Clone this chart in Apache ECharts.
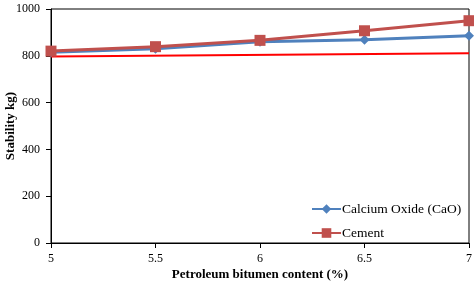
<!DOCTYPE html>
<html><head><meta charset="utf-8">
<script src="https://cdn.jsdelivr.net/npm/echarts@6/dist/echarts.min.js"></script>
<style>html,body{margin:0;padding:0;background:#fff}#c{width:474px;height:283px}</style>
</head><body><div id="c"></div>
<script>
const bitumen = [5, 5.5, 6, 6.5, 7];
const cao = [815, 830, 860, 869, 886];
const cement = [820, 839, 866, 907, 950];
const limitX = [5, 7];
const limitY = [797, 811];
const xTicks = [5, 5.5, 6, 6.5, 7];
const yTicks = [0, 200, 400, 600, 800, 1000];

const font = 'Liberation Serif';
const chart = echarts.init(document.getElementById('c'));
chart.setOption({
  animation: false,
  textStyle: {fontFamily: font},
  grid: {left: 51, right: 5, top: 9, bottom: 40, show: true, borderColor: '#000', borderWidth: 1,
         containLabel: false, outerBoundsMode: 'none'},
  legend: {
    orient: 'vertical', left: 306, top: 197, itemWidth: 29, itemHeight: 12, itemGap: 10,
    data: ['Calcium Oxide (CaO)', 'Cement'],
    textStyle: {fontFamily: font, fontSize: 13.5, color: '#000', padding: [0, 0, 0, -4]}
  },
  xAxis: {
    type: 'value', min: 5, max: 7, interval: 0.5,
    name: 'Petroleum bitumen content (%)', nameLocation: 'middle', nameGap: 25, nameMoveOverlap: false,
    nameTextStyle: {fontFamily: font, fontWeight: 'bold', fontSize: 13, color: '#000'},
    axisLine: {lineStyle: {color: '#000'}},
    axisTick: {show: true, length: 5, lineStyle: {color: '#000'}},
    axisLabel: {fontFamily: font, fontSize: 12, color: '#000', margin: 10,
      formatter: v => xTicks.includes(v) ? String(v) : ''},
    splitLine: {show: false}
  },
  yAxis: {
    type: 'value', min: 0, max: 1000, interval: 200,
    name: 'Stability kg)', nameLocation: 'middle', nameGap: 34, nameMoveOverlap: false,
    nameTextStyle: {fontFamily: font, fontWeight: 'bold', fontSize: 13, color: '#000'},
    axisLine: {show: true, lineStyle: {color: '#000'}},
    axisTick: {show: true, length: 5, lineStyle: {color: '#000'}},
    axisLabel: {fontFamily: font, fontSize: 12, color: '#000', margin: 11,
      formatter: v => yTicks.includes(v) ? String(v) : ''},
    splitLine: {show: false}
  },
  series: [
    {name: 'Limit', type: 'line', data: limitX.map((x, i) => [x, limitY[i]]),
     symbol: 'none', lineStyle: {color: '#FF0000', width: 2}, itemStyle: {color: '#FF0000'}, z: 1},
    {name: 'Calcium Oxide (CaO)', type: 'line', data: bitumen.map((x, i) => [x, cao[i]]),
     symbol: 'diamond', symbolSize: 10, lineStyle: {color: '#4F81BD', width: 3},
     itemStyle: {color: '#4F81BD'}, z: 2},
    {name: 'Cement', type: 'line', data: bitumen.map((x, i) => [x, cement[i]]),
     symbol: 'rect', symbolSize: 11, lineStyle: {color: '#C0504D', width: 3},
     itemStyle: {color: '#C0504D'}, z: 3}
  ]
});
</script></body></html>
